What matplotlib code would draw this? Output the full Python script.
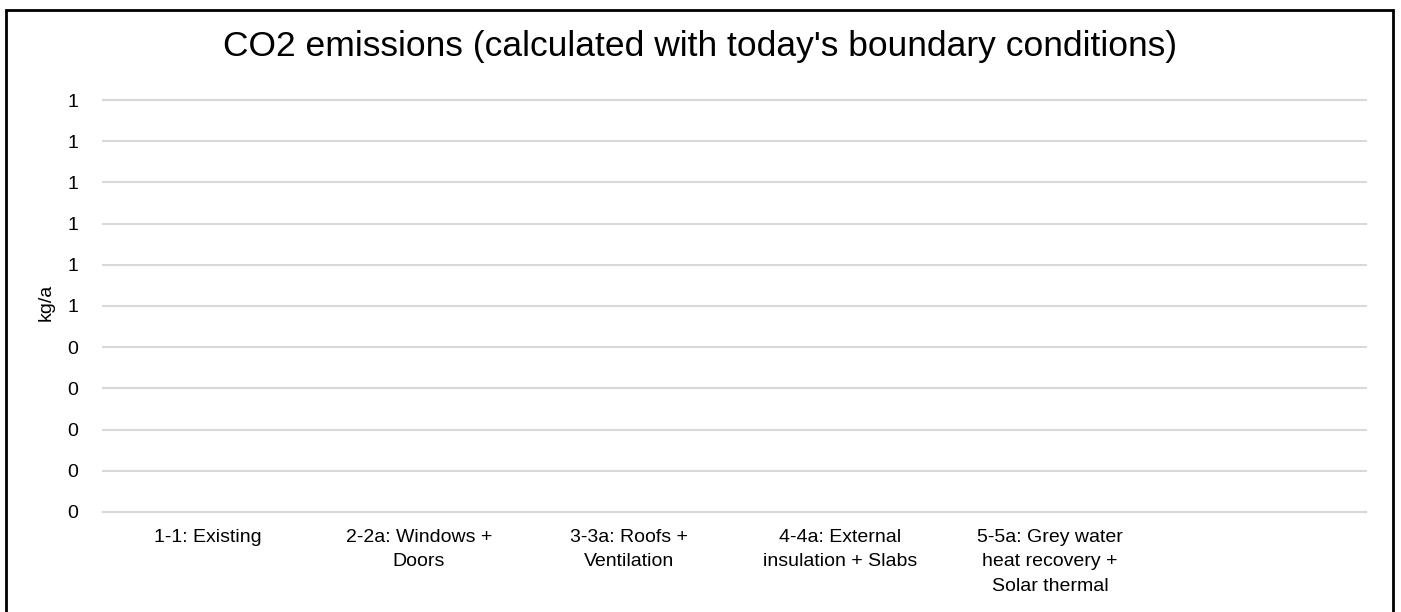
import matplotlib.pyplot as plt
from matplotlib.patches import Rectangle
import numpy as np

plt.rcParams['font.family'] = ['Liberation Sans', 'DejaVu Sans']

# categories (last one is empty in the original chart)
categories = ['1-1: Existing', '2-2a: Windows +\nDoors', '3-3a: Roofs +\nVentilation',
              '4-4a: External\ninsulation + Slabs', '5-5a: Grey water\nheat recovery +\nSolar thermal', '']
# no data in the chart -> all zero
co2 = [0, 0, 0, 0, 0, 0]
y_ticks = [0.0, 0.1, 0.2, 0.3, 0.4, 0.5, 0.6, 0.7, 0.8, 0.9, 1.0]
y_ticklabels = ['0', '0', '0', '0', '0', '1', '1', '1', '1', '1', '1']

fig = plt.figure(figsize=(14.01, 6.12), dpi=100)
ax = fig.add_axes([0.0735, 0.1634, 0.9015, 0.6732])

x = np.arange(len(categories))
ax.bar(x, co2, width=0.6, color='#4472c4')

ax.set_xlim(-0.5, len(categories) - 0.5)
ax.set_ylim(0, 1)
ax.set_xticks(x)
ax.set_xticklabels(categories, fontsize=14, color='#000000', linespacing=1.6, va='top')
ax.set_yticks(y_ticks)
ax.set_yticklabels(y_ticklabels, fontsize=14)
ax.tick_params(axis='both', length=0)
ax.tick_params(axis='x', pad=12)
ax.tick_params(axis='y', pad=18)
ax.yaxis.grid(True, color='#d9d9d9', linewidth=1.5)
for gl in ax.get_ygridlines():
    gl.set_clip_on(False)
ax.set_axisbelow(True)
for s in ['top', 'right', 'left']:
    ax.spines[s].set_visible(False)
ax.spines['bottom'].set_color('#d9d9d9')
ax.spines['bottom'].set_linewidth(1.5)

ax.set_ylabel('kg/a', fontsize=14)
ax.yaxis.set_label_coords(-0.038, 0.51)
fig.text(0.5, 0.924, "CO2 emissions (calculated with today's boundary conditions)",
         ha='center', va='center', fontsize=25.5)

# chart border
fig.patches.append(Rectangle((0.004, -0.02), 0.99, 1.003, transform=fig.transFigure,
                             fill=False, edgecolor='black', linewidth=2))

fig.savefig('out.png', dpi=100)
